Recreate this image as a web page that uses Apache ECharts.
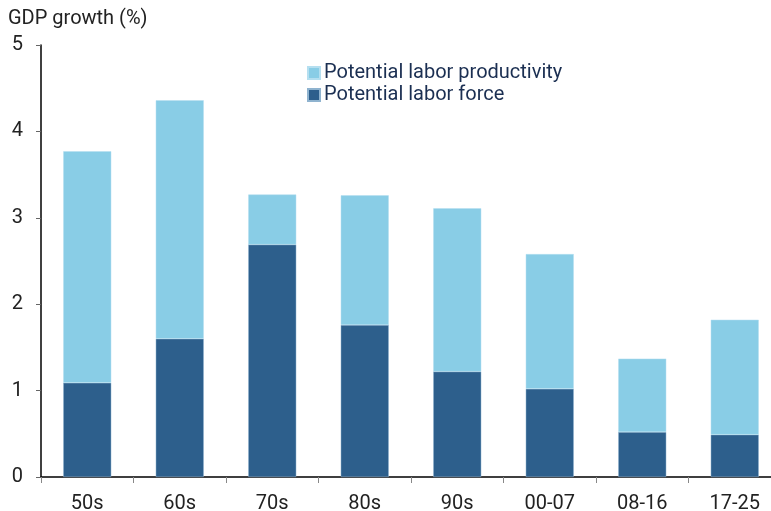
<!DOCTYPE html>
<html>
<head>
<meta charset="utf-8">
<script src="https://cdn.jsdelivr.net/npm/echarts@6/dist/echarts.min.js"></script>
<style>
  html, body { margin: 0; padding: 0; background: #fff; }
  #chart { width: 771px; height: 511px; }
</style>
</head>
<body>
<div id="chart"></div>
<script>
const categories = ['50s', '60s', '70s', '80s', '90s', '00-07', '08-16', '17-25']
const laborForce = [1.09, 1.60, 2.69, 1.76, 1.22, 1.02, 0.52, 0.49]
const laborProductivity = [2.68, 2.76, 0.58, 1.50, 1.89, 1.56, 0.85, 1.33]
const yTicks = [0, 1, 2, 3, 4, 5]

const chart = echarts.init(document.getElementById('chart'))

// last category runs past the right edge in the original, so fix the width
chart.setOption({
  animation: false,
  textStyle: { fontFamily: 'Roboto' },
  grid: { left: 41, width: 740, top: 45, bottom: 34, containLabel: false, outerBoundsMode: 'none' },
  legend: {
    left: 302, top: 58,
    orient: 'vertical',
    itemWidth: 12, itemHeight: 12, itemGap: 2,
    icon: 'rect',
    textStyle: { color: '#1b2f52', fontSize: 20, fontFamily: 'Roboto', padding: [0, 0, 0, -1] },
    data: ['Potential labor productivity', 'Potential labor force'],
  },
  xAxis: {
    type: 'category',
    data: categories,
    axisLine: { lineStyle: { color: '#000', width: 1.5 } },
    axisTick: { show: true, length: 6, lineStyle: { color: '#888' } },
    axisLabel: { color: '#222', fontSize: 20, margin: 17 },
  },
  yAxis: {
    type: 'value',
    name: 'GDP growth (%)',
    nameLocation: 'end',
    nameGap: 16,
    nameTextStyle: { color: '#222', fontSize: 20, align: 'left', padding: [0, 0, 0, -33] },
    min: yTicks[0], max: yTicks[yTicks.length - 1], interval: 1,
    axisLine: { show: true, lineStyle: { color: '#000', width: 1.5 } },
    axisTick: { show: true, length: 5, lineStyle: { color: '#666' } },
    axisLabel: { color: '#222', fontSize: 20, margin: 18 },
    splitLine: { show: false },
  },
  series: [
    {
      name: 'Potential labor force',
      type: 'bar',
      stack: 'gdp',
      data: laborForce,
      barWidth: 48,
      itemStyle: { color: '#2d5f8c', borderColor: '#8fb3cf', borderWidth: 0.5 },
    },
    {
      name: 'Potential labor productivity',
      type: 'bar',
      stack: 'gdp',
      data: laborProductivity,
      barWidth: 48,
      itemStyle: { color: '#89cde6', borderColor: '#b5dff0', borderWidth: 0.5 },
    },
  ],
})
</script>
</body>
</html>
